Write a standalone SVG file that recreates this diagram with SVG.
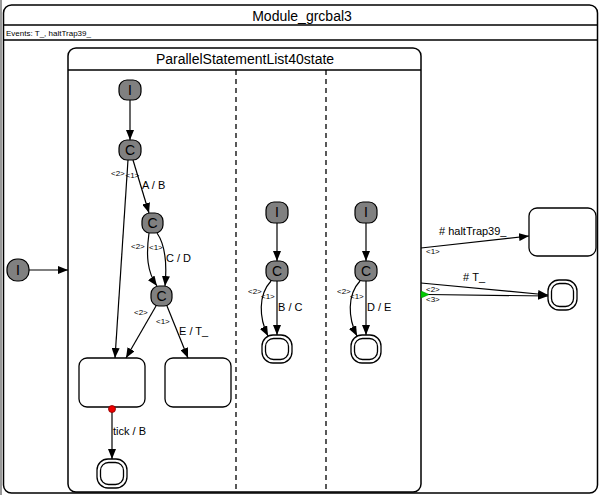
<svg xmlns="http://www.w3.org/2000/svg" width="600" height="495" viewBox="0 0 600 495">
<defs>
<marker id="arr" markerUnits="userSpaceOnUse" markerWidth="10" markerHeight="8" refX="10" refY="4" orient="auto"><path d="M0,0 L10,4 L0,8 z" fill="#000"/></marker>
<style>
.box{fill:#fff;stroke:#000;stroke-width:1.5}
.sep{stroke:#000;stroke-width:1.3}
.dash{stroke:#000;stroke-width:1.3;stroke-dasharray:5,4}
.ps{fill:#808080;stroke:#000;stroke-width:1.2}
.pt{font-family:"Liberation Sans",Arial,sans-serif;font-size:14px;text-anchor:middle;fill:#000}
.st{fill:#fff;stroke:#000;stroke-width:1.3}
.e{fill:none;stroke:#000;stroke-width:1.2;marker-end:url(#arr)}
.lb{font-family:"Liberation Sans",Arial,sans-serif;font-size:11px;fill:#000}
.pr{font-family:"Liberation Sans",Arial,sans-serif;font-size:8px;fill:#000}
.title{font-family:"Liberation Sans",Arial,sans-serif;font-size:14px;text-anchor:middle;fill:#000}
</style>
</defs>
<rect width="600" height="495" fill="#fff"/>
<line x1="1" y1="0" x2="1" y2="495" stroke="#999" stroke-width="2"/>
<g id="module">
<rect class="box" x="3.5" y="5" width="594" height="488" rx="8"/>
<line class="sep" x1="3.5" y1="25" x2="597.5" y2="25"/>
<line class="sep" x1="3.5" y1="40" x2="597.5" y2="40"/>
<text class="title" x="302" y="21">Module_grcbal3</text>
<text x="6" y="36" font-family="Liberation Sans, Arial, sans-serif" font-size="8">Events: T_, haltTrap39_</text>
</g>
<g id="parallel">
<rect class="box" x="68" y="48" width="353" height="444" rx="8"/>
<line class="sep" x1="68" y1="70" x2="421" y2="70"/>
<text class="title" x="245" y="64">ParallelStatementList40state</text>
<line class="dash" x1="236" y1="70" x2="236" y2="492"/>
<line class="dash" x1="326" y1="70" x2="326" y2="492"/>
</g>
<g id="init0"><rect class="ps" x="7" y="259" width="22" height="22" rx="10"/><text class="pt" x="18" y="275">I</text></g>
<g id="r1_init"><rect class="ps" x="119" y="80" width="22" height="20" rx="8"/><text class="pt" x="130" y="95">I</text></g>
<g id="r1_c1"><rect class="ps" x="119" y="140" width="22" height="20" rx="8"/><text class="pt" x="130" y="155">C</text></g>
<g id="r1_c2"><rect class="ps" x="142" y="213" width="21" height="20" rx="8"/><text class="pt" x="152.5" y="228">C</text></g>
<g id="r1_c3"><rect class="ps" x="151" y="286" width="21" height="20" rx="8"/><text class="pt" x="161.5" y="301">C</text></g>
<g id="r1_s1"><rect class="st" x="79" y="358" width="66" height="49" rx="8"/></g>
<g id="r1_s2"><rect class="st" x="165" y="358" width="66" height="49" rx="8"/></g>
<g id="r1_final"><rect class="st" x="97" y="459" width="30" height="29" rx="11"/><rect class="st" x="100.5" y="462.5" width="23" height="22" rx="8"/></g>
<g id="r2_init"><rect class="ps" x="266" y="202" width="22" height="21" rx="8"/><text class="pt" x="277" y="217">I</text></g>
<g id="r2_c"><rect class="ps" x="266" y="261" width="22" height="20" rx="8"/><text class="pt" x="277" y="276">C</text></g>
<g id="r2_final"><rect class="st" x="262" y="335" width="30" height="28" rx="11"/><rect class="st" x="265.5" y="338.5" width="23" height="21" rx="8"/></g>
<g id="r3_init"><rect class="ps" x="355" y="202" width="22" height="21" rx="8"/><text class="pt" x="366" y="217">I</text></g>
<g id="r3_c"><rect class="ps" x="355" y="261" width="22" height="20" rx="8"/><text class="pt" x="366" y="276">C</text></g>
<g id="r3_final"><rect class="st" x="351" y="335" width="30" height="28" rx="11"/><rect class="st" x="354.5" y="338.5" width="23" height="21" rx="8"/></g>
<g id="halt_state"><rect class="st" x="529" y="208" width="67" height="48" rx="8"/></g>
<g id="outer_final"><rect class="st" x="548" y="280" width="29" height="30" rx="11"/><rect class="st" x="551.5" y="283.5" width="22" height="23" rx="8"/></g>
<g id="connectors">
<path class="e" d="M29,270 L68,270"/>
<path class="e" d="M130,100 L130,140"/>
<path class="e" d="M133,160 L149,213"/>
<path class="e" d="M128,160 L115,358"/>
<path class="e" d="M149,233 C146,255 147,272 157,286"/>
<path class="e" d="M157,233 C166,246 167,265 165,286"/>
<path class="e" d="M156,306 L126,358"/>
<path class="e" d="M167,306 L188,358"/>
<path class="e" d="M112,412 L112,459"/>
<circle cx="112" cy="409" r="3.5" fill="#e00" stroke="#800" stroke-width="0.8"/>
<path class="e" d="M277,223 L277,261"/>
<path class="e" d="M277,281 L277,335"/>
<path class="e" d="M271,281 C258,295 259,318 268,336"/>
<path class="e" d="M366,223 L366,261"/>
<path class="e" d="M366,281 L366,335"/>
<path class="e" d="M360,281 C347,295 348,318 357,336"/>
<path class="e" d="M421,248 L529,236"/>
<path class="e" d="M421,283 L548,295"/>
<path class="e" d="M428,294.5 L548,296"/>
<polygon points="421,291 429,294.5 421,298" fill="#0c0" stroke="#080" stroke-width="0.6"/>
</g>
<g id="labels">
<text class="pr" x="111" y="176">&lt;2&gt;</text>
<text class="pr" x="125.5" y="178">&lt;1&gt;</text>
<text class="lb" x="142" y="189">A / B</text>
<text class="pr" x="131" y="249">&lt;2&gt;</text>
<text class="pr" x="149" y="250">&lt;1&gt;</text>
<text class="lb" x="166" y="262">C / D</text>
<text class="pr" x="134" y="315">&lt;2&gt;</text>
<text class="pr" x="156" y="324">&lt;1&gt;</text>
<text class="lb" x="179" y="335">E / T_</text>
<text class="lb" x="113" y="435">tick / B</text>
<text class="pr" x="248" y="294">&lt;2&gt;</text>
<text class="pr" x="261" y="299">&lt;1&gt;</text>
<text class="lb" x="278" y="311">B / C</text>
<text class="pr" x="337" y="294">&lt;2&gt;</text>
<text class="pr" x="350" y="299">&lt;1&gt;</text>
<text class="lb" x="367" y="311">D / E</text>
<text class="lb" x="439" y="235">#&#160;haltTrap39_</text>
<text class="pr" x="426" y="254">&lt;1&gt;</text>
<text class="lb" x="463" y="281">#&#160;T_</text>
<text class="pr" x="426" y="292">&lt;2&gt;</text>
<text class="pr" x="426" y="302">&lt;3&gt;</text>
</g>
</svg>
